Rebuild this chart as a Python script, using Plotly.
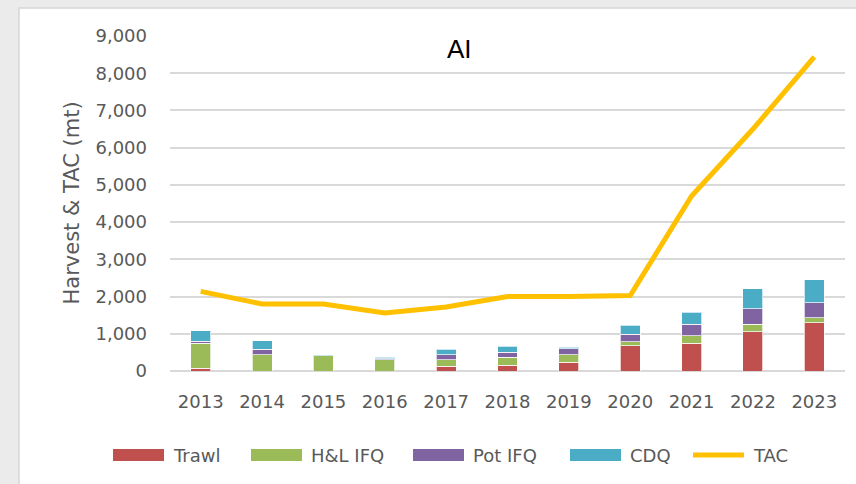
from plotly import graph_objects as go

# ----------------------数据-------------------------------------------------
years = ['2013', '2014', '2015', '2016', '2017', '2018', '2019', '2020', '2021', '2022', '2023']
trawl = [70, 0, 0, 0, 134, 160, 234, 680, 745, 1057, 1290]
hl_ifq = [675, 440, 410, 296, 162, 207, 196, 100, 196, 198, 143]
pot_ifq = [60, 145, 5, 35, 142, 134, 170, 206, 314, 412, 403]
cdq = [280, 225, 25, 37, 145, 170, 37, 242, 323, 546, 619]
tac = [2140, 1800, 1800, 1560, 1720, 2000, 2000, 2030, 4700, 6500, 8440]

series_names = ['Trawl', 'H&L IFQ', 'Pot IFQ', 'CDQ', 'TAC']
colors = ['#C0504D', '#9BBB59', '#8064A2', '#4BACC6', '#FFC000']

FONT = 'DejaVu Sans'
GREY = '#595959'

fig = go.Figure()
for vals, name, col in zip([trawl, hl_ifq, pot_ifq, cdq], series_names[:4], colors[:4]):
    fig.add_trace(go.Bar(x=years, y=vals, name=name, marker_color=col,
                         marker_line=dict(color='rgba(255,255,255,0.7)', width=1)))
fig.add_trace(go.Scatter(x=years, y=tac, name='TAC', mode='lines',
                         line=dict(color=colors[4], width=5)))

# 背景：灰色外框 + 白色面板
shapes = [dict(type='rect', xref='paper', yref='paper', x0=-0.2237, x1=1.02, y0=-0.34, y1=1.0836,
               fillcolor='white', line=dict(color='#d6d6d6', width=1.5), layer='below')]
annotations = [
    dict(text='AI', x=(459 - 170) / 675, y=(371 - 49) / 335, xref='paper', yref='paper',
         xanchor='center', yanchor='middle', showarrow=False,
         font=dict(family='Liberation Sans', size=26, color='black')),
    dict(text='Harvest & TAC (mt)', x=(71 - 170) / 675, y=0.5, xref='paper', yref='paper',
         xanchor='center', yanchor='middle', textangle=-90, showarrow=False,
         font=dict(family=FONT, size=21, color=GREY)),
]

# 图例（宽色块）
legend_x = [113, 251, 413, 570, 693]
for lx, name, col in zip(legend_x, series_names, colors):
    x0 = (lx - 170) / 675
    x1 = (lx + 51 - 170) / 675
    if name == 'TAC':
        shapes.append(dict(type='line', xref='paper', yref='paper', x0=x0, x1=x1,
                           y0=(371 - 455) / 335, y1=(371 - 455) / 335,
                           line=dict(color=col, width=5)))
    else:
        shapes.append(dict(type='rect', xref='paper', yref='paper', x0=x0, x1=x1,
                           y0=(371 - 449) / 335, y1=(371 - 461) / 335,
                           fillcolor=col, line=dict(color=col, width=0)))
    annotations.append(dict(text=name, x=(lx + 58 - 170) / 675, y=(371 - 455) / 335,
                            xref='paper', yref='paper', xanchor='left', yanchor='middle',
                            showarrow=False, font=dict(family=FONT, size=18, color=GREY)))

fig.update_layout(
    width=856, height=484,
    margin=dict(l=170, r=11, t=36, b=113),
    paper_bgcolor='#ebebeb', plot_bgcolor='white',
    barmode='stack', bargap=0.675,
    showlegend=False,
    font=dict(family=FONT, size=18, color=GREY),
    shapes=shapes, annotations=annotations,
    xaxis=dict(showgrid=False, showline=False, ticklabelstandoff=18,
               tickfont=dict(family=FONT, size=18, color=GREY)),
    yaxis=dict(range=[0, 9000], dtick=1000, tickformat=',', showgrid=True,
               gridcolor='#d9d9d9', gridwidth=1.5, zeroline=True, zerolinecolor='#d9d9d9',
               zerolinewidth=1.5, ticklabelstandoff=22,
               tickfont=dict(family=FONT, size=18, color=GREY)),
)

fig.write_html("out.html", config={'displayModeBar': False},
               post_script="document.body.style.margin='0';")
